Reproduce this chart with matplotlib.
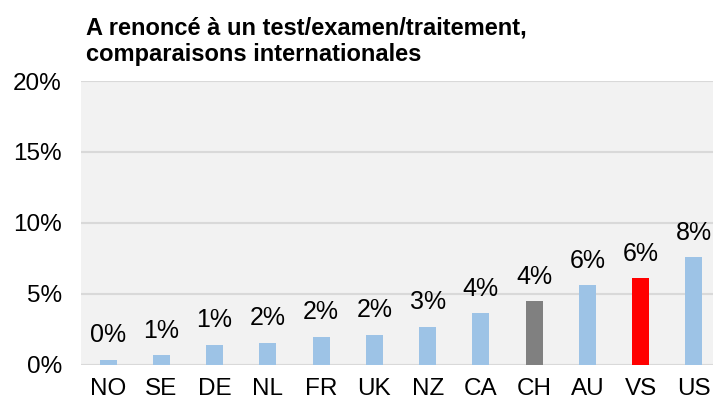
import matplotlib.pyplot as plt
from matplotlib.ticker import FuncFormatter

plt.rcParams['font.family'] = ['Liberation Sans', 'DejaVu Sans']

countries = ['NO', 'SE', 'DE', 'NL', 'FR', 'UK', 'NZ', 'CA', 'CH', 'AU', 'VS', 'US']
values = [0.35, 0.65, 1.4, 1.52, 1.95, 2.1, 2.65, 3.63, 4.45, 5.6, 6.1, 7.55]
colors = ['#9DC3E6'] * 8 + ['#808080', '#9DC3E6', '#FF0000', '#9DC3E6']

fig = plt.figure(figsize=(7.13, 4.03), dpi=100)
ax = fig.add_axes([81.4 / 713, (403 - 364.5) / 403, 639.2 / 713, 283.5 / 403])
ax.set_facecolor('#F2F2F2')

x = range(len(countries))
ax.bar(x, values, width=0.32, color=colors, zorder=3)
for i, v in enumerate(values):
    ax.annotate(f'{round(v):.0f}%', (i, v), xytext=(0, 9), textcoords='offset points',
                ha='center', va='bottom', fontsize=18, zorder=4)

ax.set_xlim(-0.5, len(countries) - 0.5)
ax.set_ylim(0, 20)
ax.set_yticks([0, 5, 10, 15, 20])
ax.yaxis.set_major_formatter(FuncFormatter(lambda v, p: f'{v:.0f}%'))
ax.set_xticks(list(x))
ax.set_xticklabels(countries)
ax.tick_params(axis='both', length=0, labelsize=17.5)
ax.tick_params(axis='x', pad=10)
ax.tick_params(axis='y', pad=14)
ax.grid(axis='y', color='#D9D9D9', linewidth=1.5, zorder=1)
for s in ax.spines.values():
    s.set_visible(False)

fig.text(86 / 713, 1 - 16 / 403, 'A renoncé à un test/examen/traitement,\ncomparaisons internationales',
         fontsize=17, fontweight='bold', ha='left', va='top', linespacing=1.2)

fig.savefig('out.png', dpi=100)
